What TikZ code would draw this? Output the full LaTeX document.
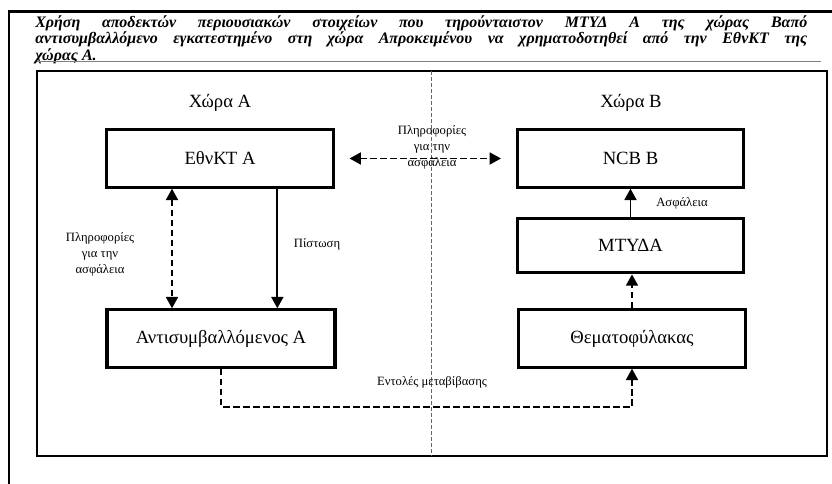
\documentclass[tikz,border=0pt]{standalone}
\usepackage{fontspec}
\setmainfont{Liberation Serif}
\usepackage{tikz}
\usetikzlibrary{arrows.meta,positioning}

\begin{document}
\begin{tikzpicture}[x=0.75pt,y=-0.75pt,
		>={Triangle[length=8.5pt,width=9pt]},
		caja/.style={draw,line width=2.3pt,minimum width=170pt,minimum height=43pt,font=\fontsize{14}{16}\selectfont},
		flecha/.style={line width=1.3pt},
		guiones/.style={dash pattern=on 5pt off 2.5pt},
		etiqueta/.style={font=\fontsize{9.5}{12}\selectfont,align=center,inner sep=0pt}]
		\useasboundingbox (0,0) rectangle (832,484);
		
		% marco exterior y titulo
		\draw[line width=2.2pt] (9,484) -- (9,11.5) -- (832,11.5);
		\node[anchor=north west,text width=579pt,align=justify,inner sep=0pt,
			font=\fontsize{12}{12.6}\selectfont\bfseries\itshape] (titulo) at (35,15)
			{Χρήση αποδεκτών περιουσιακών στοιχείων που τηρούνταιστον ΜΤΥΔ Α της χώρας Βαπό\linebreak
			 αντισυμβαλλόμενο εγκατεστημένο στη χώρα Απροκειμένου να χρηματοδοτηθεί από την ΕθνΚΤ της\linebreak
			 χώρας Α.};
		\draw[gray,line width=1pt] (37,61.5) -- (821,61.5);
		
		% marco interior y separacion de paises
		\draw[line width=2pt] (37,71) rectangle (827,456);
		\draw[gray!80!black,line width=0.5pt,dash pattern=on 3pt off 1.5pt] (431,71) -- (431,456);
		
		% paises
		\node[font=\fontsize{14}{16}\selectfont] (paisA) at (220,103) {Χώρα Α};
		\node[font=\fontsize{14}{16}\selectfont] (paisB) at (631,103) {Χώρα Β};
		
		% cajas
		\node[caja] (bcn) at (220,158.5) {ΕθνΚΤ Α};
		\node[caja] (ncb) at (630.5,158.5) {NCB B};
		\node[caja,minimum height=41pt] (mtyd) at (630.5,245.5) {ΜΤΥΔΑ};
		\node[caja] (custodio) at (632,338.5) {Θεματοφύλακας};
		\node[caja,minimum width=171pt] (contra) at (221,338.5) {Αντισυμβαλλόμενος Α};
		
		% conexiones
		\draw[flecha,guiones,<->] ([xshift=11pt]bcn.east) -- ([xshift=-11pt]ncb.west);
		\draw[flecha,guiones,<->] ([xshift=-36pt]bcn.south) -- ([xshift=-36pt]bcn.south |- contra.north);
		\draw[flecha,->] ([xshift=43pt]bcn.south) -- ([xshift=43pt]bcn.south |- contra.north);
		\draw[flecha,->] (mtyd.north) -- (mtyd.north |- ncb.south);
		\draw[flecha,guiones,->] (custodio.north) -- (custodio.north |- mtyd.south);
		\draw[flecha,guiones,->] (contra.south) -- ++(0,38) -| (custodio.south);
		
		% etiquetas
		\node[etiqueta] (info1) at (432,147) {Πληροφορίες\\για την\\ασφάλεια};
		\node[etiqueta] (info2) at (100,254) {Πληροφορίες\\για την\\ασφάλεια};
		\node[etiqueta] (credito) at (317,244) {Πίστωση};
		\node[etiqueta] (garantia) at (682,203) {Ασφάλεια};
		\node[etiqueta] (ordenes) at (432,382) {Εντολές μεταβίβασης};
	\end{tikzpicture}
\end{document}
